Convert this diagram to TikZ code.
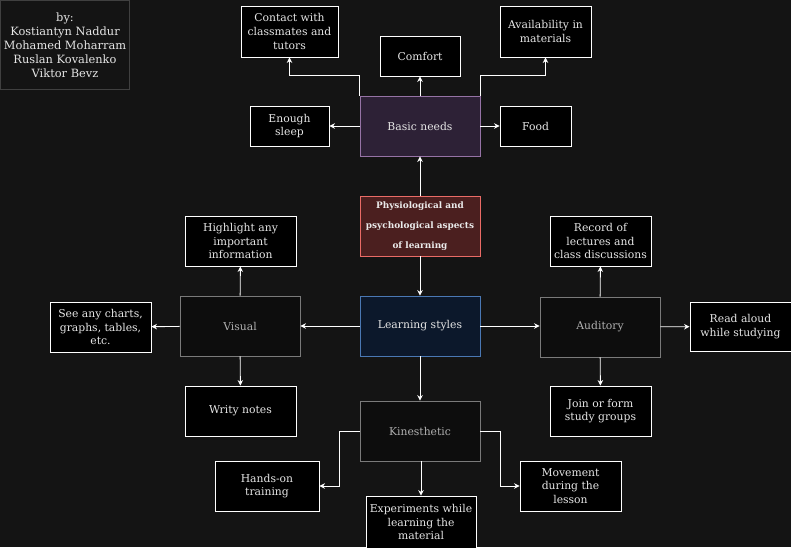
\documentclass[tikz,border=0pt]{standalone}
\usepackage{fontspec}
\setmainfont{DejaVu Serif}
\usepackage{tikz}
\usetikzlibrary{arrows.meta}
\usepackage[x11names]{xcolor}

\definecolor{bgcol}{HTML}{141414}
\definecolor{txtcol}{HTML}{E6E6E6}
\definecolor{greytxt}{HTML}{B0B0B0}
\definecolor{greyline}{HTML}{7A7A7A}
\definecolor{basicfill}{HTML}{2D2136}
\definecolor{basicline}{HTML}{9673A6}
\definecolor{physfill}{HTML}{4B1F1F}
\definecolor{physline}{HTML}{EA6B66}
\definecolor{learnfill}{HTML}{0C182B}
\definecolor{learnline}{HTML}{4A78B4}

\begin{document}
\begin{tikzpicture}[x=1pt, y=-1pt,
    leaf/.style={draw=white, fill=black, text=txtcol, line width=0.9pt, align=center, inner sep=0pt, font=\fontsize{10.8}{13.8}\selectfont},
    group/.style={draw=greyline, fill=black!95!white, text=greytxt, line width=0.9pt, minimum width=120pt, minimum height=60pt, inner sep=0pt, font=\fontsize{10.8}{13.8}\selectfont},
    arr/.style={draw=white, line width=0.9pt, -{Stealth[length=5.5pt, width=5.5pt]}}]
    % Draw the background
    \fill[bgcol] (0,0) rectangle (791,547);
    \useasboundingbox (0,0) rectangle (791,547);

    % Draw the authors box
    \node[draw=black!75!white, fill=bgcol, text=txtcol, minimum width=129pt, minimum height=89pt, align=center, inner sep=0pt, font=\fontsize{11.4}{14}\selectfont] (authors) at (65,45) {by:\\Kostiantyn Naddur\\Mohamed Moharram\\Ruslan Kovalenko\\Viktor Bevz};

    % Draw the central boxes
    \node[draw=physline, fill=physfill, text=white!92!black, line width=0.9pt, minimum width=120pt, minimum height=60pt, align=center, inner sep=0pt, font=\bfseries\fontsize{8.9}{20}\selectfont] (phys) at (420,226) {Physiological and\\psychological aspects\\of learning};
    \node[draw=basicline, fill=basicfill, text=txtcol, line width=0.9pt, minimum width=120pt, minimum height=60pt, font=\fontsize{10.8}{13.8}\selectfont] (basic) at (420,126) {Basic needs};
    \node[draw=learnline, fill=learnfill, text=txtcol, line width=0.9pt, minimum width=120pt, minimum height=60pt, font=\fontsize{10.8}{13.8}\selectfont] (learn) at (420,326) {Learning styles};

    % Draw the basic needs leaves
    \node[leaf, minimum width=97pt, minimum height=51pt] (contact) at (289.5,31.5) {Contact with\\classmates and\\tutors};
    \node[leaf, minimum width=80pt, minimum height=40pt] (comfort) at (420,56) {Comfort};
    \node[leaf, minimum width=91pt, minimum height=51pt] (avail) at (545.5,31.5) {Availability in\\materials};
    \node[leaf, minimum width=79pt, minimum height=40pt] (sleep) at (289.5,126) {Enough\\sleep};
    \node[leaf, minimum width=71pt, minimum height=40pt] (food) at (535.5,126) {Food};

    % Draw the learning style groups
    \node[group] (visual) at (240,326) {Visual};
    \node[group] (audit) at (600,327) {Auditory};
    \node[group] (kin) at (420,431) {Kinesthetic};

    % Draw the visual leaves
    \node[leaf, minimum width=111pt, minimum height=50pt] (highlight) at (240.5,241) {Highlight any\\important\\information};
    \node[leaf, minimum width=101pt, minimum height=50pt] (charts) at (100.5,327) {See any charts,\\graphs, tables,\\etc.};
    \node[leaf, minimum width=111pt, minimum height=50pt] (notes) at (240.5,411) {Writy notes};

    % Draw the auditory leaves
    \node[leaf, minimum width=101pt, minimum height=50pt] (record) at (600.5,241) {Record of\\lectures and\\class discussions};
    \node[leaf, minimum width=101pt, minimum height=49pt] (aloud) at (740.5,326.5) {Read aloud\\while studying};
    \node[leaf, minimum width=101pt, minimum height=50pt] (join) at (600.5,411) {Join or form\\study groups};

    % Draw the kinesthetic leaves
    \node[leaf, minimum width=104pt, minimum height=50pt] (hands) at (267,486) {Hands-on\\training};
    \node[leaf, minimum width=110pt, minimum height=52pt] (exper) at (421,522) {Experiments while\\learning the\\material};
    \node[leaf, minimum width=101pt, minimum height=50pt] (move) at (570.5,486) {Movement\\during the\\lesson};

    % Draw arrows of the centre
    \draw[arr] (phys) -- (basic);
    \draw[arr] (phys) -- (learn);

    % Draw arrows of basic needs
    \draw[arr] (basic.north west) -- ++(0,-20) -| (contact.south);
    \draw[arr] (basic) -- (comfort);
    \draw[arr] (basic.north east) -- ++(0,-20) -| (avail.south);
    \draw[arr] (basic) -- (sleep);
    \draw[arr] (basic) -- (food);

    % Draw arrows of learning styles
    \draw[arr] (learn) -- (visual);
    \draw[arr] (learn.east) -- (audit.west |- learn.east);
    \draw[arr] (learn) -- (kin);

    \draw[arr] (visual) -- (highlight);
    \draw[arr] (visual) -- (charts);
    \draw[arr] (visual) -- (notes);

    \draw[arr] (audit) -- (record);
    \draw[arr] (audit) -- (aloud);
    \draw[arr] (audit) -- (join);

    \draw[arr] (kin.west) -- ++(-20,0) |- (hands.east);
    \draw[arr] (kin.south -| exper.north) -- (exper.north);
    \draw[arr] (kin.east) -- ++(20,0) |- (move.west);
\end{tikzpicture}
\end{document}
